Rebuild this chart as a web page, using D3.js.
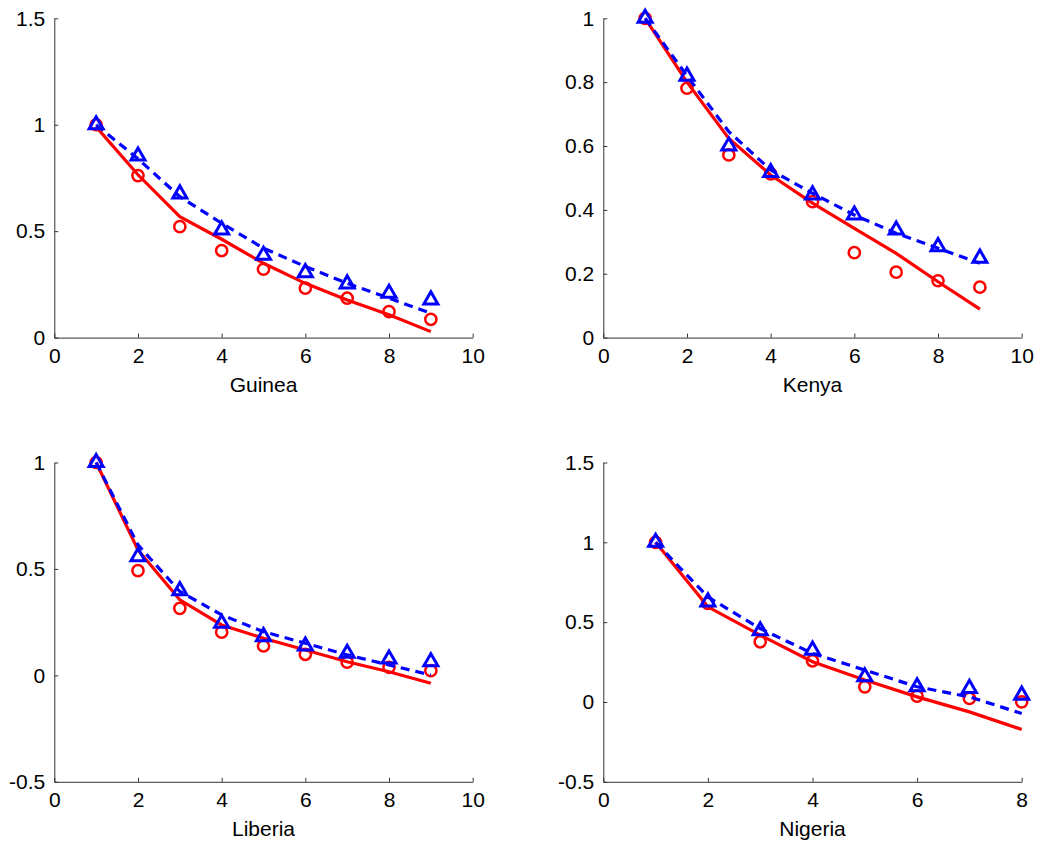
<!DOCTYPE html>
<html>
<head>
<meta charset="utf-8">
<script src="https://cdn.jsdelivr.net/npm/d3@7"></script>
<style>
  body { margin:0; background:#fff; }
  text { font-family: "Liberation Sans", Arial, sans-serif; }
</style>
</head>
<body>
<div id="canvas" class="canvas"></div>
<script>
// --- data
var countries = ['Guinea', 'Kenya', 'Liberia', 'Nigeria'];

var guineaX   = [1, 2, 3, 4, 5, 6, 7, 8, 9];
var guineaObsR = [1.0, 0.761, 0.521, 0.409, 0.321, 0.232, 0.185, 0.122, 0.086];
var guineaFitR = [0.99, 0.765, 0.568, 0.462, 0.349, 0.255, 0.177, 0.107, 0.028];
var guineaObsB = [1.0, 0.853, 0.675, 0.506, 0.387, 0.305, 0.252, 0.208, 0.177];
var guineaFitB = [1.0, 0.84, 0.662, 0.537, 0.42, 0.334, 0.255, 0.185, 0.115];

var kenyaX   = [1, 2, 3, 4, 5, 6, 7, 8, 9];
var kenyaObsR = [1.0, 0.781, 0.572, 0.513, 0.426, 0.266, 0.205, 0.178, 0.158];
var kenyaFitR = [1.0, 0.80, 0.624, 0.509, 0.421, 0.342, 0.264, 0.175, 0.089];
var kenyaObsB = [1.0, 0.819, 0.600, 0.517, 0.447, 0.384, 0.337, 0.285, 0.249];
var kenyaFitB = [1.0, 0.82, 0.645, 0.525, 0.452, 0.384, 0.327, 0.280, 0.233];

var liberiaX   = [1, 2, 3, 4, 5, 6, 7, 8, 9];
var liberiaObsR = [1.0, 0.492, 0.315, 0.203, 0.138, 0.099, 0.062, 0.038, 0.022];
var liberiaFitR = [1.0, 0.589, 0.355, 0.237, 0.174, 0.119, 0.064, 0.017, -0.037];
var liberiaObsB = [1.0, 0.558, 0.398, 0.245, 0.182, 0.138, 0.104, 0.077, 0.064];
var liberiaFitB = [1.0, 0.613, 0.394, 0.284, 0.205, 0.151, 0.096, 0.049, 0.002];

var nigeriaX   = [1, 2, 3, 4, 5, 6, 7, 8];
var nigeriaObsR = [1.0, 0.617, 0.377, 0.258, 0.095, 0.037, 0.022, 0.001];
var nigeriaFitR = [1.0, 0.596, 0.419, 0.252, 0.137, 0.032, -0.062, -0.172];
var nigeriaObsB = [1.0, 0.627, 0.446, 0.325, 0.158, 0.095, 0.085, 0.043];
var nigeriaFitB = [1.0, 0.658, 0.46, 0.304, 0.20, 0.095, 0.032, -0.072];

// --- axis limits and tick labels
var xTicks10 = [0, 2, 4, 6, 8, 10];
var xTicks8  = [0, 2, 4, 6, 8];
var yTicksGuinea  = [0, 0.5, 1, 1.5];
var yTicksKenya   = [0, 0.2, 0.4, 0.6, 0.8, 1];
var yTicksLiberia = [-0.5, 0, 0.5, 1];
var yTicksNigeria = [-0.5, 0, 0.5, 1, 1.5];

var panels = [
  {name:countries[0], x:guineaX, obsR:guineaObsR, fitR:guineaFitR, obsB:guineaObsB, fitB:guineaFitB,
   xt:xTicks10, yt:yTicksGuinea, col:0, row:0},
  {name:countries[1], x:kenyaX, obsR:kenyaObsR, fitR:kenyaFitR, obsB:kenyaObsB, fitB:kenyaFitB,
   xt:xTicks10, yt:yTicksKenya, col:1, row:0},
  {name:countries[2], x:liberiaX, obsR:liberiaObsR, fitR:liberiaFitR, obsB:liberiaObsB, fitB:liberiaFitB,
   xt:xTicks10, yt:yTicksLiberia, col:0, row:1},
  {name:countries[3], x:nigeriaX, obsR:nigeriaObsR, fitR:nigeriaFitR, obsB:nigeriaObsB, fitB:nigeriaFitB,
   xt:xTicks8, yt:yTicksNigeria, col:1, row:1}
];

// --- layout
var W = 1041, H = 846;
var colLeft = [54.3, 603.3], rowTop = [18.3, 462.5];
var pw = 418.4, ph = 319.3;

var svg = d3.select('.canvas')
  .append('svg')
  .attr('width', W)
  .attr('height', H)
  .style('background', '#fff');

var fmt = function(d){ return String(d); };

panels.forEach(function(p) {
  var g = svg.append('g')
    .attr('transform', 'translate(' + colLeft[p.col] + ',' + rowTop[p.row] + ')');

  var x = d3.scaleLinear().domain(d3.extent(p.xt)).range([0, pw]);
  var y = d3.scaleLinear().domain(d3.extent(p.yt)).range([ph, 0]);

  var xAxis = g.append('g')
    .attr('transform', 'translate(0,' + ph + ')')
    .call(d3.axisBottom(x).tickValues(p.xt).tickFormat(fmt)
      .tickSizeInner(-4).tickSizeOuter(0).tickPadding(10));
  var yAxis = g.append('g')
    .call(d3.axisLeft(y).tickValues(p.yt).tickFormat(fmt)
      .tickSizeInner(-4).tickSizeOuter(0).tickPadding(9));

  [xAxis, yAxis].forEach(function(a) {
    a.select('.domain').attr('stroke', '#333').attr('stroke-width', 1);
    a.selectAll('.tick line').attr('stroke', '#333');
    a.selectAll('.tick text')
      .attr('fill', '#000')
      .style('font-size', '21px')
      .style('font-family', '"Liberation Sans", Arial, sans-serif');
  });

  g.append('text')
    .attr('x', pw / 2)
    .attr('y', ph + 47)
    .attr('dy', '0.35em')
    .attr('text-anchor', 'middle')
    .style('font-size', '21px')
    .attr('fill', '#000')
    .text(p.name);

  var line = function(vals) {
    return d3.line()
      .x(function(d, i){ return x(p.x[i]); })
      .y(function(d){ return y(d); })(vals);
  };

  // red: observed circles + solid fit
  g.selectAll('circle.r')
    .data(p.obsR)
    .enter().append('circle')
    .attr('cx', function(d, i){ return x(p.x[i]); })
    .attr('cy', function(d){ return y(d); })
    .attr('r', 5.6)
    .style('fill', 'none')
    .style('stroke', '#ff0000')
    .style('stroke-width', 2.5);

  g.append('path')
    .attr('d', line(p.fitR))
    .style('fill', 'none')
    .style('stroke', '#ff0000')
    .style('stroke-width', 3.2);

  // blue: observed triangles + dashed fit
  var tri = d3.symbol().type(d3.symbolTriangle).size(85);
  g.selectAll('path.b')
    .data(p.obsB)
    .enter().append('path')
    .attr('d', tri)
    .attr('transform', function(d, i){ return 'translate(' + x(p.x[i]) + ',' + y(d) + ')'; })
    .style('fill', 'none')
    .style('stroke', '#0000ff')
    .style('stroke-width', 3);

  g.append('path')
    .attr('d', line(p.fitB))
    .style('fill', 'none')
    .style('stroke', '#0000ff')
    .style('stroke-width', 3.2)
    .style('stroke-dasharray', '9,6');
});
</script>
</body>
</html>
